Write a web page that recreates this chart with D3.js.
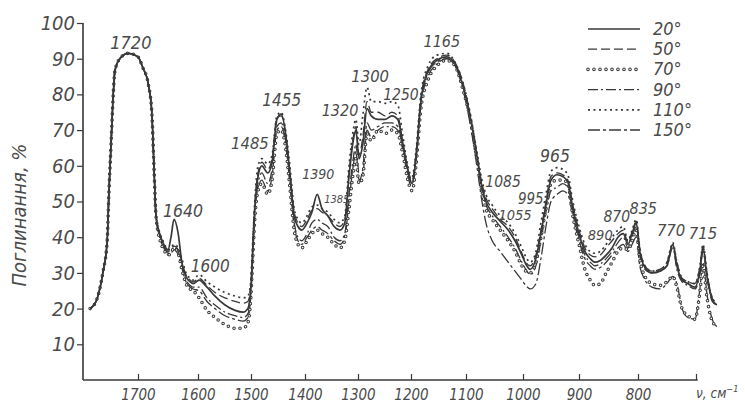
<!DOCTYPE html>
<html><head><meta charset="utf-8">
<script src="https://cdn.jsdelivr.net/npm/d3@7"></script>
<style>
body{margin:0;background:#fff}
svg{display:block}
text{font-family:"DejaVu Sans Condensed","DejaVu Sans",sans-serif;font-stretch:condensed;font-style:italic;fill:#4a4a4a}
</style>
</head><body>
<svg id="c" width="745" height="406"></svg>
<script>
// ---- data ----
const wavenumbers = [1787,1775,1764,1756,1753,1749,1745,1742,1733,1718,
 1700,1692,1683,1677,1673,1670,1663,1657,1650,1645,
 1640,1633,1627,1620,1613,1608,1598,1583,1568,1549,
 1530,1515,1506,1500,1498,1493,1487,1480,1469,1461,
 1452,1444,1435,1428,1420,1413,1406,1396,1387,1377,
 1368,1357,1345,1334,1325,1317,1309,1304,1298,1291,
 1283,1275,1262,1249,1236,1225,1215,1206,1198,1191,
 1182,1169,1153,1135,1120,1105,1093,1081,1072,1065,
 1054,1040,1026,1014,1002,995,987,977,968,959,
 950,939,929,920,911,900,890,881,873,864,
 854,844,834,825,817,810,803,797,788,776,
 762,750,740,733,724,714,702,693,688,681,
 672,664];
const s20 = [20,22.5,30,39,52,66,80,86.5,90,91.5, 90.5,87.5,83,75,58,46,40.5,38,36.5,40, 45,41,33,29,27.5,27,28,26,23.5,21, 19.5,19,20,26,32,48,57,60,58,61, 73,74.5,68,58,46,43,42,44,47,52, 48,46,43,42,44,57,67,70,62,66, 76,74,73,73,74,73,66,59,55,62, 78,86.5,89.5,90.5,88.5,82,74,63,54,50, 47,44.5,42,39,35,32.5,31,34,41,49, 56,57.5,57,55.5,48,41,36,34,33,33.5, 35,37,40,41,38,41,44,36,31.5,30, 30.5,32,38,32,28,27,26,31,37,29, 22.5,21];
const s50 = [20,22.5,30,39,52,66,80,86.5,90,91.5, 90.5,87.5,83,75,58,46,40.5,38,36,36.5, 37.5,36.5,33,29.5,28,27.5,28.5,26.5,24.5,23, 22,21.5,22,27,33,49,58,61,59,62, 73.5,74,68,58,47,44,43,45,47.5,48, 47,46,44,43,45,58,68,71,63,68, 78,75,75,74,75,74,66,59,56,63, 79,87,90,91,89,83,74.5,63,55,51, 48,45,43,40,35.5,33,32,35,42,50, 57,58,57.5,56,49,42,37,35,34.5,35, 37,39,41,42,38.5,41.5,44.5,37,32,30.5, 31,33,38,33,28.5,27.5,27,32,37.5,30, 23,21.5];
const s70 = [20,22.5,30,39,52,66,80,86.5,90,91.5, 90.5,87.5,83,75,58,46,39,36.5,35,35.5, 37,35.5,31,27,25.5,25,23,19.5,17.5,15.5, 14.5,14.5,16,24,30,45,53,55,52,56, 69,70,64,54,42,38,37,39,41,42, 41,40,38,37,39,48,58,62,55,57, 69,67,70,69,70,69,63,56,53,60, 76,84,88,89.5,88,81,73.5,62,53,48, 45,42,39,36,32,30.5,30,33,40,48, 55,56,56,55,46,38,31,28,26.5,27, 30,33,36,37,36.5,39,42,34,29,27, 26.5,27.5,29,26,20,18,17,25,32,23, 16.5,15];
const s90 = [20,22.5,30,39,52,66,80,86.5,90,91.5, 90.5,87.5,83,75,58,46,40,37.5,35.5,36, 37,36,32,28,26.5,26,26,23,21,19, 18,17.5,18.5,25,31,47,55,58,55,59, 71,72,66,56,44,40,39,41,44,45, 44,43,40,39,41,52,62,66,58,58, 70,68,70,71,71,70,64,57,54,61, 77,85,88.5,90,88.5,82,74,62,53,49, 46,43,40,37,33,31,29.5,32,39,47, 53,54,55,54,47,40,35,33,32,32.5, 34,36,38.5,40,37,40,43,35,31,30, 30.5,32,37,31,27.5,26.5,25.5,30,36,28.5, 22,21];
const s110 = [20,22.5,30,39,52,66,80,86.5,90,91.5, 90.5,87.5,83,75,58,46,41,38.5,36.5,37, 38,37,34,30,28.5,28,29.5,27.5,26,24.5, 23.5,23,23.5,28,34,50,60,62,60.5,63, 74,75,69,60,48,45,44,46,48.5,49, 48,47,45,44,46,60,70,73,66,74, 82,78,78,77.5,78,77,68,60,57,64, 80,88,91,91.5,89,83,75,64,56,52, 49,46,44,41,37,34.5,33,36,44,52, 58.5,59.5,59,57.5,50,43,38,36,35.5,36, 38,40,42,43,39,42,45,37,32,30.5, 31,33,38.5,33,28.5,27.5,27,32,38,30, 23,21.5];
const s150 = [20,22.5,30,39,52,66,80,86.5,90,91.5, 90.5,87.5,83,75,58,46,39.5,37,35,35.5, 36.5,35,31.5,27.5,26,25.5,25,22,20,18, 17,16.5,17.5,24.5,30.5,46,54,56,53,57, 70,71,65,55,43,39,38,40,42,43, 42,41,39,38,40,50,60,64,56,59, 72,70,71,72,72,71,65,58,55,62, 78,86,89,90,88,81,72,60,50,44, 39,36,33,30.5,28,26.5,25.5,27,34,43, 50,52,53,52,46,39,34,32,31,31.5, 33,35,37,38,36,38,40,32,28,26, 25.5,27,29,27,20,17.5,17,26,33,24, 17,15];
const seriesNames = ["20°","50°","70°","90°","110°","150°"];
const yTicks = [10,20,30,40,50,60,70,80,90,100];
const xTicks = [1700,1600,1500,1400,1300,1200,1100,1000,900,800,700];
const xTickLabels = ["1700","1600","1500","1400","1300","1200","1100","1000","900","800",""];
// peak annotations: label, wavenumber and % where the label sits
const peakLabels = [["1720",1713,92.7],["1640",1625,45.7],["1600",1577,30.3],["1485",1502,64.7],
 ["1455",1443,76.8],["1390",1375,56.3],["1385",1340,49.6],["1320",1334,73.9],["1300",1277,83.5],
 ["1250",1219,78.4],["1165",1144,93.3],["1085",1035,54.1],["995",986,49.3],["1055",1014,44.8],
 ["965",943,61.1],["890",864,39.2],["870",836,44.3],["835",791,46.5],["770",743,40.3],["715",688,39.5]];

// ---- layout / styles ----
const peakFont = {"1720":18,"1640":17.5,"1600":17,"1485":16.5,"1455":17,"1390":14,"1385":11,
  "1320":16,"1300":16.5,"1250":15.5,"1165":16,"1085":15.5,"995":15,"1055":14.5,"965":17.5,
  "890":14.5,"870":15.5,"835":16,"770":16.5,"715":16.5};
const svg = d3.select("#c");
const x = d3.scaleLinear()
  .domain([1800,1700,1600,1500,1400,1300,1200,1100,1000,900,800,700,600])
  .range([83,138,198,251,305,358,411,466,523,579,638,696,754]);
const y = d3.scaleLinear().domain([0,100]).range([380,23]);
const ink = "#383838";

const styles = [
  {w:1.7, dash:null},
  {w:1.3, dash:"9,4"},
  {w:1.2, dash:"0,6", circles:true},
  {w:1.3, dash:"10,3,2,3"},
  {w:1.7, dash:"2,3.5"},
  {w:1.3, dash:"12,3,3,3"}
];
const allValues = [s20,s50,s70,s90,s110,s150];
const series = seriesNames.map((n,i)=>({name:n, pts: wavenumbers.map((v,j)=>[v, allValues[i][j]]), st: styles[i]}));

const line = d3.line().x(d=>x(d[0])).y(d=>y(d[1])).curve(d3.curveMonotoneX);

function drawStroke(sel, st){
  if (st.circles){
    sel.append("path").attr("fill","none").attr("stroke",ink).attr("stroke-width",3.6)
      .attr("stroke-linecap","round").attr("stroke-dasharray","0,6");
    sel.append("path").attr("fill","none").attr("stroke","#fff").attr("stroke-width",1.6)
      .attr("stroke-linecap","round").attr("stroke-dasharray","0,6");
  } else {
    const p = sel.append("path").attr("fill","none").attr("stroke",ink).attr("stroke-width",st.w);
    if (st.dash) p.attr("stroke-dasharray",st.dash);
  }
}

// axes
const yAxis = d3.axisLeft(y).tickValues(yTicks).tickSizeInner(6).tickSizeOuter(0).tickPadding(2);
const gy = svg.append("g").attr("transform","translate(83,0)").call(yAxis);
gy.select(".domain").remove();
gy.selectAll(".tick line").attr("stroke",ink).attr("stroke-width",1.2);
gy.selectAll(".tick text").attr("font-size",20).attr("fill","#4a4a4a")
  .style("font-family",'"DejaVu Sans Condensed","DejaVu Sans",sans-serif');
svg.append("line").attr("x1",83).attr("x2",83).attr("y1",y(100)).attr("y2",y(0))
  .attr("stroke",ink).attr("stroke-width",1.6);

const xAxis = d3.axisBottom(x).tickValues(xTicks).tickSizeInner(-6).tickSizeOuter(0).tickPadding(9)
  .tickFormat((d,i)=>xTickLabels[i]);
const gx = svg.append("g").attr("transform","translate(0,380)").call(xAxis);
gx.select(".domain").remove();
gx.selectAll(".tick line").attr("stroke",ink).attr("stroke-width",1.2);
gx.selectAll(".tick text").attr("font-size",15).attr("fill","#4a4a4a")
  .style("font-family",'"DejaVu Sans Condensed","DejaVu Sans",sans-serif');
svg.append("line").attr("x1",x(1800)).attr("x2",x(697)).attr("y1",380).attr("y2",380)
  .attr("stroke",ink).attr("stroke-width",1.6);

// axis titles
svg.append("text").attr("transform","translate(26,215) rotate(-90)").attr("text-anchor","middle")
  .attr("font-size",20).text("Поглинання, %");
const xt = svg.append("text").attr("x",696).attr("y",398).attr("font-size",13.5);
xt.append("tspan").text("ν, см");
xt.append("tspan").attr("dy",-6).attr("font-size",9).text("−1");

// curves
series.slice().reverse().forEach(s=>{
  const g = svg.append("g");
  drawStroke(g, s.st);
  g.selectAll("path").attr("d", line(s.pts));
});

// peak labels
svg.append("g").selectAll("text").data(peakLabels).join("text")
  .attr("x",d=>x(d[1])).attr("y",d=>y(d[2])).attr("text-anchor","middle")
  .attr("font-size",d=>peakFont[d[0]]||16).text(d=>d[0]);

// legend
const lg = svg.append("g");
series.forEach((s,i)=>{
  const yy = 29 + i*20.2;
  const g = lg.append("g");
  drawStroke(g, s.st);
  g.selectAll("path").attr("d", `M588,${yy}L640,${yy}`);
  lg.append("text").attr("x",653).attr("y",yy+6).attr("font-size",18).text(s.name);
});
</script>
</body></html>
